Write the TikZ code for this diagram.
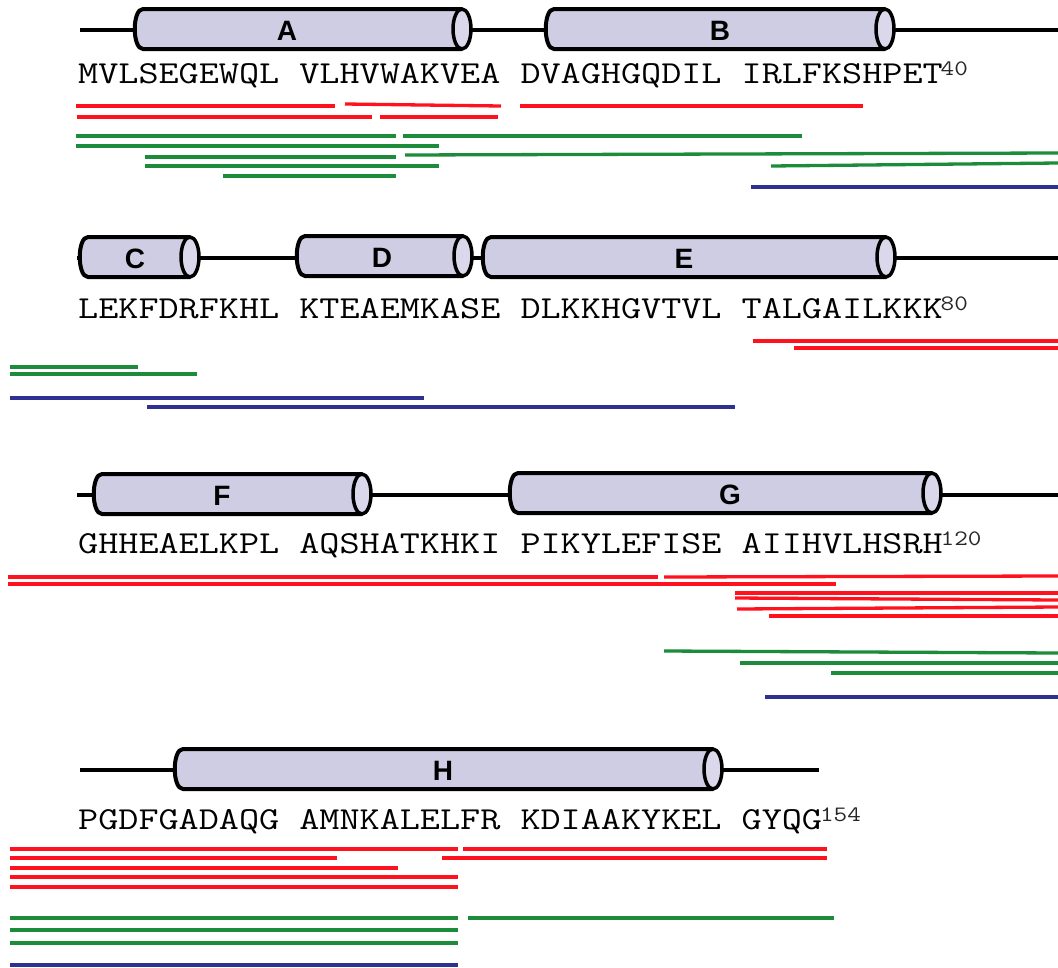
\documentclass[tikz,border=0pt]{standalone}
\usepackage{fontspec}
\usepackage{graphicx}
\usepackage{tikz}
\newfontfamily\labelfont{Liberation Sans}
\definecolor{helixfill}{RGB}{207,205,227}
\definecolor{helixcap}{RGB}{218,216,234}
\definecolor{hxred}{RGB}{255,18,30}
\definecolor{hxgreen}{RGB}{28,140,58}
\definecolor{hxblue}{RGB}{46,49,146}

% sequence line, stretched to Courier widths
\newcommand{\seqline}[1]{\scalebox{1.22}[1]{\fontsize{32}{38}\selectfont\ttfamily #1}}
% residue number after a sequence line
\newcommand{\resnum}[1]{\kern-2pt\raisebox{8pt}{\scalebox{1.2}[1]{\fontsize{22}{24}\selectfont\ttfamily\color{black!85}#1}}}
% cylinder: left x, right x, centre y, label x, name
\newcommand{\helixcyl}[5]{%
  \filldraw[helix] (#2,#3-20) -- (#1+9,#3-20)
    .. controls (#1-3,#3-20) and (#1-3,#3+20) .. (#1+9,#3+20) -- (#2,#3+20);
  \filldraw[helixend] (#2,#3) ellipse[x radius=9, y radius=20];
  \node[hlabel] (h#5) at (#4,#3+2) {#5};
}

\begin{document}
\begin{tikzpicture}[
  x=1pt, y=-1pt,
  backbone/.style={line width=4.5pt},
  helix/.style={line width=4pt, fill=helixfill, rounded corners=1pt},
  helixend/.style={line width=3.5pt, fill=helixcap},
  hlabel/.style={inner sep=0pt, font=\fontsize{28}{30}\selectfont\labelfont\bfseries},
  seq/.style={inner sep=0pt, anchor=base west},
  redbar/.style={line width=3.3pt, hxred},
  greenbar/.style={line width=3.3pt, hxgreen},
  bluebar/.style={line width=3.3pt, hxblue}
]
\useasboundingbox[fill=white] (0,0) rectangle (1058,967);

% backbones
\draw[backbone] (80,30) -- (1058,30);
\draw[backbone] (77,258) -- (1058,258);
\draw[backbone] (77,495) -- (1058,495);
\draw[backbone] (80,770) -- (819,770);

% helices
\helixcyl{135}{462}{29}{287}{A}
\helixcyl{546}{885}{29}{720}{B}
\helixcyl{80}{190}{257}{135}{C}
\helixcyl{297}{463}{256}{382}{D}
\helixcyl{483}{886}{257}{684}{E}
\helixcyl{94}{362}{494}{222}{F}
\helixcyl{510}{932}{493}{730}{G}
\helixcyl{175}{713}{769}{443}{H}

% sequence
\node[seq] (seq1) at (78,83)  {\seqline{MVLSEGEWQL VLHVWAKVEA DVAGHGQDIL IRLFKSHPET}\resnum{40}};
\node[seq] (seq2) at (78,318) {\seqline{LEKFDRFKHL KTEAEMKASE DLKKHGVTVL TALGAILKKK}\resnum{80}};
\node[seq] (seq3) at (78,553) {\seqline{GHHEAELKPL AQSHATKHKI PIKYLEFISE AIIHVLHSRH}\resnum{120}};
\node[seq] (seq4) at (78,829) {\seqline{PGDFGADAQG AMNKALELFR KDIAAKYKEL GYQG}\resnum{154}};

% peptides
\foreach \xa/\ya/\xb/\yb in {76/106/335/106, 345/104/501/106, 77/117/372/117,
    380/117/498/117, 520/106/863/106, 753/341/1058/341, 794/348/1058/348,
    8/577/658/577, 664/577/1058/576, 8/584/836/584, 735/593/1058/593,
    735/598/1058/600, 737/609/1058/607, 769/616/1058/616,
    10/849/458/849, 463/849/827/849, 10/858/337/858, 442/858/827/858,
    10/868/398/868, 10/877/458/877, 10/887/458/887}
  \draw[redbar] (\xa,\ya) -- (\xb,\yb);
\foreach \xa/\ya/\xb/\yb in {76/136/396/136, 403/136/802/136, 76/146/439/146,
    145/157/396/157, 405/155/1058/153, 145/166/439/166, 771/166/1058/163,
    223/176/396/176, 10/367/138/367, 10/374/197/374,
    664/651/1058/653, 740/663/1058/663, 831/673/1058/673,
    10/918/458/918, 468/918/834/918, 10/930/458/930, 10/943/458/943}
  \draw[greenbar] (\xa,\ya) -- (\xb,\yb);
\foreach \xa/\ya/\xb/\yb in {751/187/1058/187, 10/398/424/398, 147/407/735/407,
    765/697/1058/697, 10/965/458/965}
  \draw[bluebar] (\xa,\ya) -- (\xb,\yb);
\end{tikzpicture}
\end{document}
